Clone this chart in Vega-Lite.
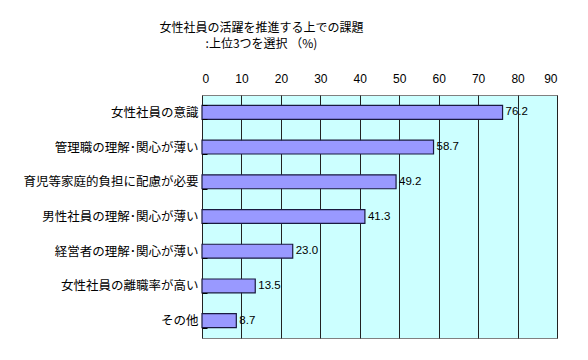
{
  "$schema": "https://vega.github.io/schema/vega-lite/v6.json",
  "width": 355,
  "height": 243,
  "autosize": {"type": "none"},
  "padding": {"left": 202, "top": 95, "right": 31, "bottom": 22},
  "background": "white",
  "title": {
    "text": ["女性社員の活躍を推進する上での課題", ":上位3つを選択 （%)"],
    "font": "Noto Sans CJK JP",
    "fontSize": 12,
    "fontWeight": "normal",
    "color": "#000000",
    "anchor": "middle",
    "dx": -118,
    "offset": 21,
    "lineHeight": 16
  },
  "data": {
    "values": [
      {"item": "女性社員の意識", "value": 76.2},
      {"item": "管理職の理解･関心が薄い", "value": 58.7},
      {"item": "育児等家庭的負担に配慮が必要", "value": 49.2},
      {"item": "男性社員の理解･関心が薄い", "value": 41.3},
      {"item": "経営者の理解･関心が薄い", "value": 23.0},
      {"item": "女性社員の離職率が高い", "value": 13.5},
      {"item": "その他", "value": 8.7}
    ]
  },
  "encoding": {
    "y": {
      "field": "item",
      "type": "nominal",
      "sort": null,
      "scale": {"paddingInner": 0.6, "paddingOuter": 0.3},
      "axis": {
        "title": null,
        "labelFont": "Noto Sans CJK JP",
        "labelFontSize": 12.5,
        "labelColor": "#000000",
        "labelPadding": 9,
        "tickBand": "extent",
        "tickSize": -5,
        "tickColor": "#000000",
        "domain": false,
        "zindex": 1
      }
    },
    "x": {
      "field": "value",
      "type": "quantitative",
      "scale": {"domain": [0, 90], "nice": false},
      "axis": {
        "orient": "top",
        "title": null,
        "values": [0, 10, 20, 30, 40, 50, 60, 70, 80, 90],
        "labelFont": "Liberation Sans",
        "labelFontSize": 12,
        "labelColor": "#000000",
        "labelPadding": 10,
        "ticks": false,
        "domain": false,
        "grid": true,
        "gridColor": "#222222",
        "gridOpacity": 1,
        "gridWidth": 1
      }
    }
  },
  "layer": [
    {
      "mark": {"type": "bar", "color": "#9999ff", "stroke": "#1a1a40", "strokeWidth": 1.2}
    },
    {
      "mark": {"type": "text", "align": "left", "dx": 3, "font": "Liberation Sans", "fontSize": 11.5, "color": "#000000"},
      "encoding": {
        "text": {"field": "value", "type": "quantitative", "format": ".1f"}
      }
    }
  ],
  "config": {
    "view": {"fill": "#ccffff", "stroke": "#808080", "strokeWidth": 1}
  }
}
